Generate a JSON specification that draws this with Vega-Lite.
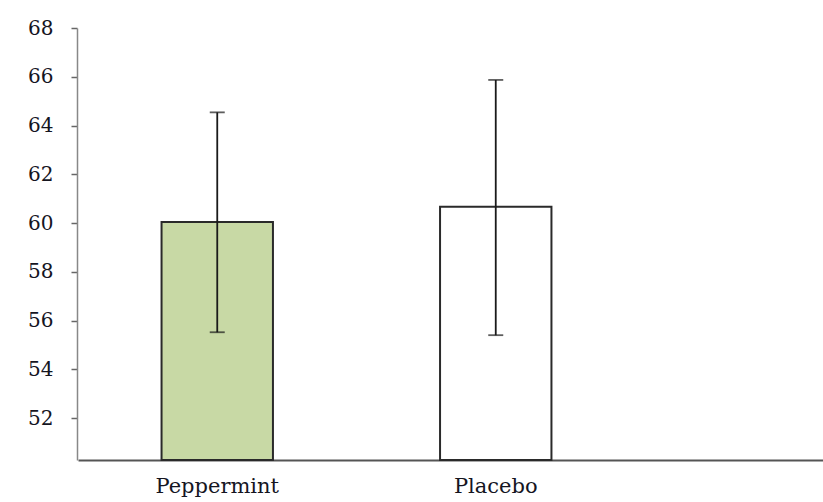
{
  "$schema": "https://vega.github.io/schema/vega-lite/v6.json",
  "width": 746,
  "height": 432,
  "autosize": "none",
  "padding": {"left": 77, "top": 28, "right": 0, "bottom": 42},
  "background": "white",
  "config": {"view": {"stroke": null}},
  "data": {
    "values": [
      {"group": "Peppermint", "mean": 60.04, "low": 55.52, "high": 64.54, "fill": "#c8d9a5"},
      {"group": "Placebo", "mean": 60.67, "low": 55.4, "high": 65.87, "fill": "#ffffff"}
    ]
  },
  "encoding": {
    "x": {
      "field": "group",
      "type": "nominal",
      "scale": {"domain": ["Peppermint", "Placebo", "_"], "range": [1, 836.5], "paddingInner": 0.6, "paddingOuter": 0.3},
      "axis": {
        "title": null,
        "labelAngle": 0,
        "labelExpr": "datum.label == '_' ? '' : datum.label",
        "labelFont": "DejaVu Serif",
        "labelFontSize": 21,
        "labelColor": "#15151f",
        "labelPadding": 15,
        "ticks": false,
        "domainColor": "#555555",
        "domainWidth": 2,
        "grid": false
      }
    }
  },
  "layer": [
    {
      "mark": {"type": "bar", "stroke": "#2a2a2a", "strokeWidth": 2},
      "encoding": {
        "y": {
          "field": "mean",
          "type": "quantitative",
          "scale": {"domain": [50.28, 68], "nice": false, "zero": false},
          "axis": {
            "title": null,
            "values": [52, 54, 56, 58, 60, 62, 64, 66, 68],
            "labelFont": "DejaVu Serif",
            "labelFontSize": 20,
            "labelColor": "#15151f",
            "labelPadding": 18,
            "tickSize": 6,
            "tickColor": "#666666",
            "tickWidth": 1.5,
            "domainColor": "#888888",
            "domainWidth": 1.5,
            "grid": false
          }
        },
        "y2": {"datum": 50.28},
        "fill": {"field": "fill", "type": "nominal", "scale": null}
      }
    },
    {
      "mark": {"type": "rule", "color": "#1a1a1a", "strokeWidth": 1.8},
      "encoding": {
        "y": {"field": "low", "type": "quantitative"},
        "y2": {"field": "high"}
      }
    },
    {
      "mark": {"type": "tick", "color": "#1a1a1a", "size": 15, "thickness": 1.8, "orient": "horizontal"},
      "encoding": {"y": {"field": "low", "type": "quantitative"}}
    },
    {
      "mark": {"type": "tick", "color": "#1a1a1a", "size": 15, "thickness": 1.8, "orient": "horizontal"},
      "encoding": {"y": {"field": "high", "type": "quantitative"}}
    }
  ]
}
